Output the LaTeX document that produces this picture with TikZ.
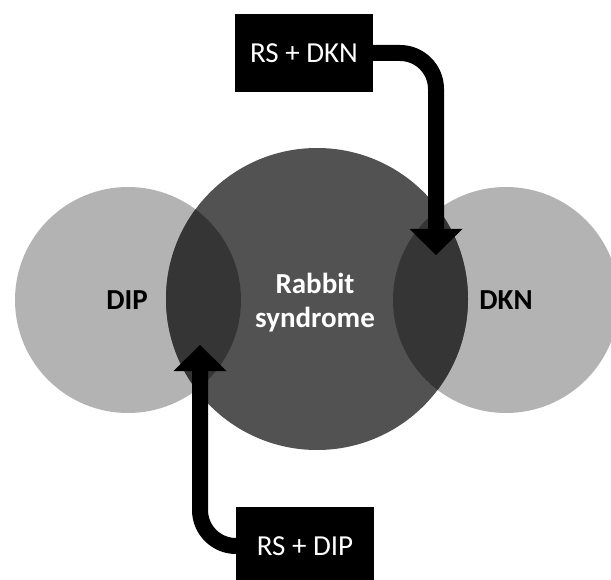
\documentclass[tikz,border=0pt]{standalone}
\usepackage{fontspec}
\setmainfont{Carlito}
\usetikzlibrary{arrows.meta}
\definecolor{smallgray}{RGB}{179,179,179}
\definecolor{biggray}{RGB}{82,82,82}
\definecolor{lensgray}{RGB}{53,53,53}
\tikzset{
  lbl/.style={font=\fontsize{29}{34}\selectfont\bfseries, align=center},
  box/.style={fill=black, text=white, minimum width=138pt, minimum height=78pt, inner sep=0pt, font=\fontsize{29}{34}\selectfont},
  conn/.style={line width=16pt, rounded corners=36pt, -{Triangle[width=53pt,length=26pt,line width=0pt]}},
}
\begin{document}
\begin{tikzpicture}[x=1pt,y=-1pt]
\useasboundingbox (0,0) rectangle (611,580);
% circles
\fill[smallgray] (128,300) circle (113);
\fill[smallgray] (506,300) circle (113);
\fill[biggray] (317,299) circle (151);
\begin{scope}
  \clip (317,299) circle (151);
  \fill[lensgray] (128,300) circle (113);
  \fill[lensgray] (506,300) circle (113);
\end{scope}
% labels
\node[lbl] (dip) at (127,300) {DIP};
\node[lbl] (dkn) at (506,300) {DKN};
\node[lbl, text=white] (rs) at (315,303) {Rabbit\\syndrome};
% boxes
\node[box] (top) at (304,53) {RS + DKN};
\node[box] (bot) at (305,546) {RS + DIP};
% connectors
\coordinate (ttip) at (436,255);
\coordinate (btip) at (200,345);
\draw[conn] (top.east) -- (top.east -| ttip) -- (ttip);
\draw[conn] (bot.west) -- (bot.west -| btip) -- (btip);
\end{tikzpicture}
\end{document}
